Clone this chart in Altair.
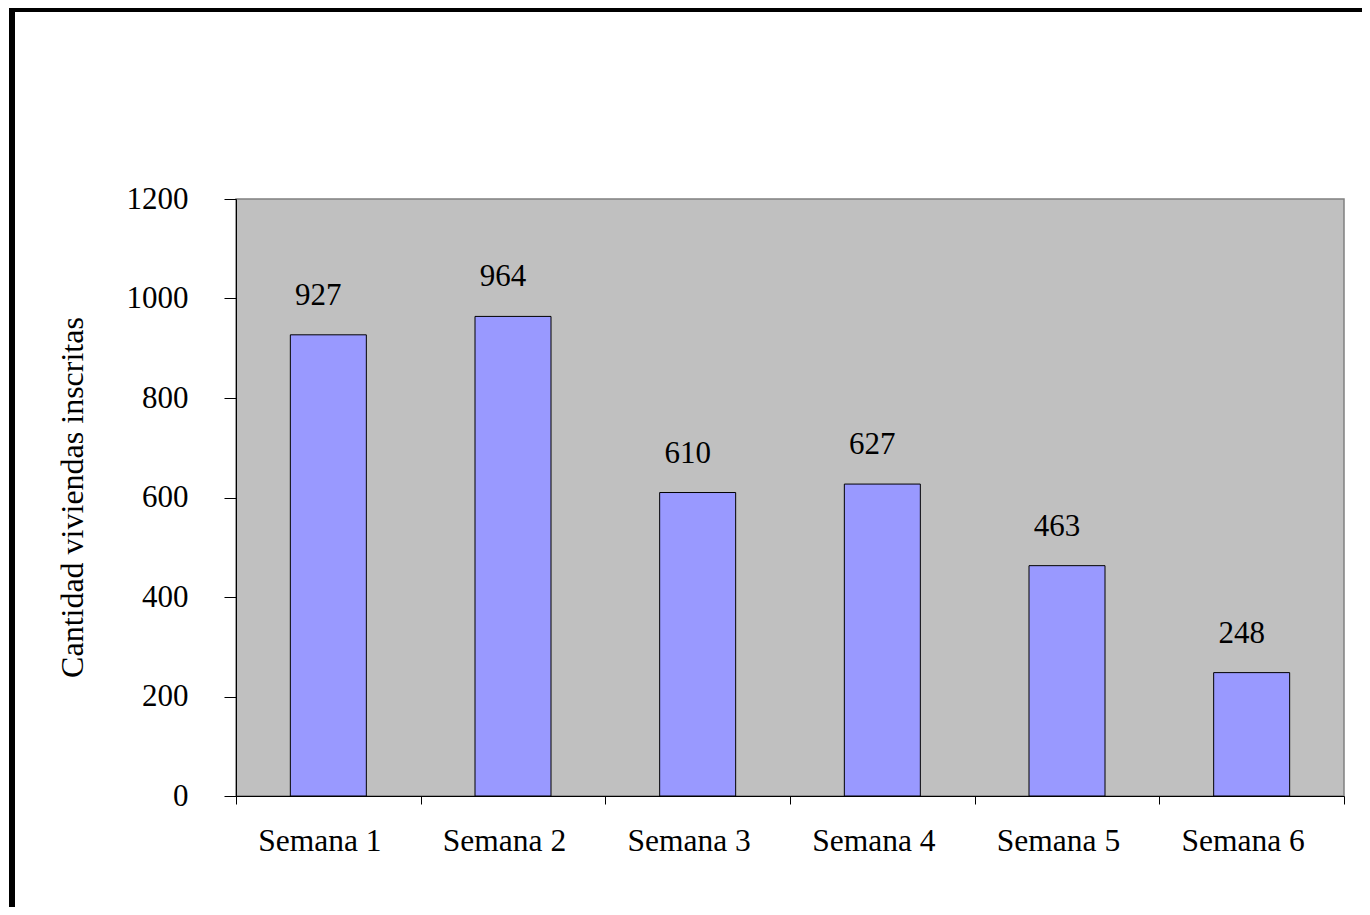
import altair as alt
import pandas as pd

weeks = ["Semana 1", "Semana 2", "Semana 3", "Semana 4", "Semana 5", "Semana 6"]
values = [927, 964, 610, 627, 463, 248]
y_ticks = [0, 200, 400, 600, 800, 1000, 1200]

df = pd.DataFrame({"semana": weeks, "valor": values})
FONT = "Liberation Serif"

base = alt.Chart(df)

x_enc = alt.X(
    "semana:N",
    sort=weeks,
    scale=alt.Scale(paddingInner=0, paddingOuter=0),
    axis=alt.Axis(
        title=None, labelAngle=0, tickBand="extent", tickSize=8,
        tickColor="black", domainColor="black", labelFont=FONT,
        labelFontSize=31.5, labelColor="black", labelBaseline="alphabetic",
        labelPadding=46, labelOffset=-9, grid=False,
    ),
)
y_enc = alt.Y(
    "valor:Q",
    scale=alt.Scale(domain=[0, 1200], nice=False),
    axis=alt.Axis(
        values=y_ticks, format="d", title="Cantidad viviendas inscritas", grid=False,
        tickSize=12, tickColor="black", domainColor="black",
        labelFont=FONT, labelFontSize=31, labelColor="black",
        labelPadding=36, labelAlign="right", labelBaseline="middle",
        titleFont=FONT, titleFontSize=32, titleFontWeight="normal",
        titleColor="black", titleAngle=270, titleX=-164, titleY=298,
        titleAlign="center", titleBaseline="middle",
    ),
)

bars = base.mark_bar(color="#9999FF", stroke="black", strokeWidth=1, width=76).encode(
    x=x_enc, y=y_enc
)
labels = base.mark_text(
    font=FONT, fontSize=31, color="black", baseline="alphabetic", dy=-30, dx=-10
).encode(x=alt.X("semana:N", sort=weeks), y="valor:Q", text="valor:Q")

one = alt.Data(values=[{"a": 1}])
left_border = alt.Chart(one).mark_rule(color="black", strokeWidth=6, clip=False).encode(
    x=alt.value(-224), y=alt.value(-191), y2=alt.value(720)
)
top_border = alt.Chart(one).mark_rule(color="black", strokeWidth=4, clip=False).encode(
    x=alt.value(-227), x2=alt.value(1130), y=alt.value(-189)
)

chart = alt.layer(bars, labels, left_border, top_border).properties(
    width=1108,
    height=597,
    autosize="none",
    padding={"left": 228, "top": 191, "right": 18, "bottom": 111},
    background="white",
).configure_view(fill="#C0C0C0", stroke="#808080", strokeWidth=1.5)

chart.save("out.html", embed_options={"renderer": "svg", "actions": False})
